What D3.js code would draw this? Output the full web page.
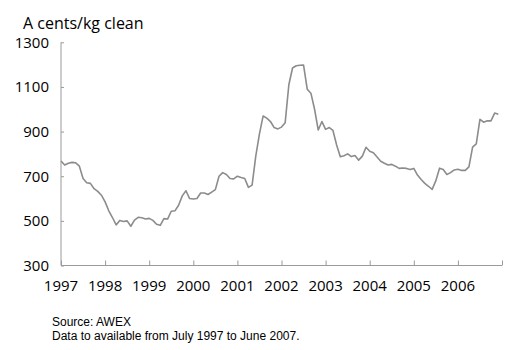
<!DOCTYPE html>
<html><head><meta charset="utf-8">
<script src="https://cdn.jsdelivr.net/npm/d3@7"></script>
<style>body{margin:0;background:#fff}svg{display:block}</style>
</head><body>
<script>
const startYear = 1997;
const yearTicks = [1997,1998,1999,2000,2001,2002,2003,2004,2005,2006,2007];
const yearLabels = ["1997","1998","1999","2000","2001","2002","2003","2004","2005","2006",""];
const valueTicks = [300,500,700,900,1100,1300];
// monthly prices, A cents/kg clean, Jan 1997 .. Dec 2006
const prices = [
 768,750,758,762,760,745,690,671,668,644,632,615,
 585,545,515,482,502,497,500,476,503,516,514,508,
 511,502,485,480,510,508,543,545,570,612,635,600,
 598,600,625,625,618,629,640,700,716,708,690,688,
 700,694,690,650,660,790,890,970,960,945,918,912,
 920,940,1110,1185,1195,1197,1198,1090,1072,1000,907,945,
 910,918,905,840,787,792,800,788,793,772,790,830,
 812,805,786,767,758,750,753,745,735,737,735,730,
 735,705,685,668,655,641,680,736,730,708,716,728,
 731,726,726,742,830,845,955,942,948,948,983,978
];

const W=511,H=350;
const svg=d3.select("body").append("svg").attr("width",W).attr("height",H);
const x=d3.scaleLinear().domain([1997,2007]).range([61,502]);
const y=d3.scaleLinear().domain([300,1300]).range([265.5,42.3]);
const axisColor="#9a9a9a";
const tickFont="Open Sans";

// y axis
const ya=svg.append("g").attr("transform","translate(61,0)")
 .call(d3.axisRight(y).tickValues(valueTicks).tickSize(3).tickFormat(""));
ya.select(".domain").attr("stroke",axisColor).attr("d","M0,"+y(1300)+"V"+y(300));
ya.selectAll(".tick line").attr("stroke",axisColor);
svg.append("g").selectAll("text").data(valueTicks).join("text")
 .attr("x",49).attr("y",d=>y(d)).attr("dy","0.36em").attr("text-anchor","end")
 .attr("font-family",tickFont).attr("font-size",15).attr("fill","#000").text(d=>d);

// x axis
const xa=svg.append("g").attr("transform","translate(0,265.5)")
 .call(d3.axisTop(x).tickValues(yearTicks).tickSize(5).tickFormat(""));
xa.select(".domain").attr("stroke",axisColor).attr("d","M61,0H502");
xa.selectAll(".tick line").attr("stroke",axisColor);
svg.append("g").selectAll("text").data(yearTicks).join("text")
 .attr("x",d=>x(d)).attr("y",290.5).attr("text-anchor","middle")
 .attr("font-family",tickFont).attr("font-size",15).attr("fill","#000")
 .text((d,i)=>yearLabels[i]);

// line
const line=d3.line().x((d,i)=>x(startYear+i/12)).y(d=>y(d));
svg.append("path").datum(prices).attr("d",line).attr("fill","none")
 .attr("stroke","#8c8c8c").attr("stroke-width",1.6).attr("stroke-linejoin","round");

// title
svg.append("text").attr("x",23).attr("y",28.5).attr("font-family",tickFont)
 .attr("font-size",16).attr("fill","#000").text("A cents/kg clean");

// footer
svg.append("text").attr("x",52).attr("y",326).attr("font-family","Liberation Sans")
 .attr("font-size",12).attr("fill","#000").text("Source: AWEX");
svg.append("text").attr("x",52).attr("y",340).attr("font-family","Liberation Sans")
 .attr("font-size",12).attr("fill","#000").text("Data to available from July 1997 to June 2007.");
</script>
</body></html>
